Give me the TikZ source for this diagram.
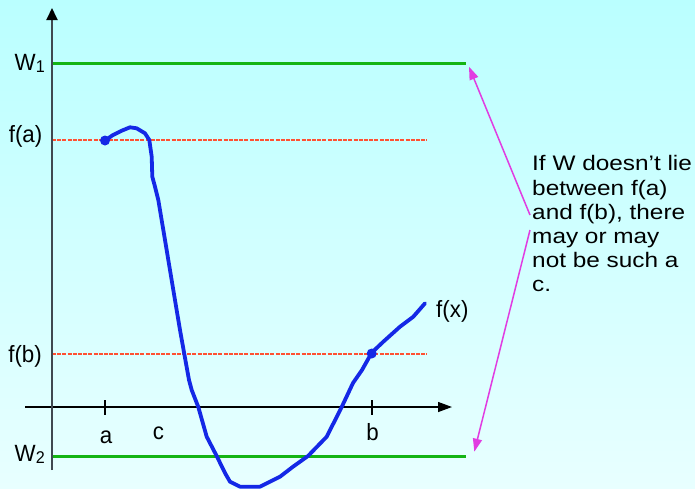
\documentclass[tikz,border=0pt]{standalone}
\usepackage{fontspec}
\setmainfont{Liberation Sans}
\newfontfamily\notefont[FakeStretch=1.16]{Liberation Sans}
\newfontfamily\lblfont[FakeStretch=0.95]{Liberation Sans}
\usetikzlibrary{arrows.meta}
\definecolor{bgtop}{RGB}{186,255,255}
\definecolor{bgbot}{RGB}{232,255,255}
\definecolor{wgreen}{RGB}{20,180,20}
\definecolor{fred}{RGB}{255,80,50}
\definecolor{cblue}{RGB}{20,40,230}
\definecolor{amag}{RGB}{225,60,225}
\definecolor{yaxis}{RGB}{64,72,80}
\newcommand\lowsub[1]{\raisebox{-1.6pt}{\fontsize{17}{17}\selectfont #1}}
\tikzset{
  lbl/.style={inner sep=0pt, font=\lblfont\fontsize{23.5}{27}\selectfont},
  wline/.style={wgreen, line width=3pt},
  fline/.style={fred, line width=1.3pt, dash pattern=on 4pt off 1.2pt},
  curve/.style={cblue, line width=3.8pt, line join=round, line cap=round},
  magarrow/.style={amag, line width=1.5pt, -{Triangle[length=13pt,width=9pt]}},
  tick/.style={black, line width=1.2pt},
}
\begin{document}
\begin{tikzpicture}[x=1pt,y=-1pt]
\shade[top color=bgtop, bottom color=bgbot] (0,0) rectangle (695,488);
\useasboundingbox (0,0) rectangle (695,488);
% coordinates
\coordinate (ybot) at (52,470);
\coordinate (ytop) at (52,8);
\coordinate (xl) at (25,407);
\coordinate (xr) at (452,407);
\coordinate (w1l) at (52,63);
\coordinate (w1r) at (466,63);
\coordinate (w2l) at (52,456);
\coordinate (w2r) at (466,456);
\coordinate (fal) at (52,140);
\coordinate (far) at (427,140);
\coordinate (fbl) at (52,354);
\coordinate (fbr) at (427,354);
\coordinate (pa) at (105,140.5);
\coordinate (pb) at (371.7,353.5);
\coordinate (tat) at (105,400);
\coordinate (tab) at (105,415);
\coordinate (tbt) at (372,400);
\coordinate (tbb) at (372,415);
% horizontal lines
\draw[fline] (fal) -- (far);
\draw[fline] (fbl) -- (fbr);
\draw[wline] (w1l) -- (w1r);
\draw[wline] (w2l) -- (w2r);
% axes
\draw[black, line width=1.3pt, -{Triangle[length=14pt,width=10pt]}] (xl) -- (xr);
\draw[yaxis, line width=2pt, -{Triangle[length=12pt,width=11pt,color=black]}] (ybot) -- (ytop);
\draw[tick] (tat) -- (tab);
\draw[tick] (tbt) -- (tbb);
% curve
\draw[curve] plot coordinates {(105,140.5) (113,135) (121.7,130.7) (130,127.3) (136.7,128.3) (145,133.3) (149.3,140) (151.7,156.7) (152.3,176.7) (155,186.7) (158.3,200) (165,240) (173.3,290) (180,330) (184.3,354) (189,380) (191.7,390) (198.3,407) (206.7,436.7) (216.7,456) (225,473) (230,481.7) (240,486.7) (260,486.7) (280,476.7) (293,466.7) (308,456) (326.7,436.7) (341.7,407) (353,383) (362,370) (371.7,352.7) (383.3,341.7) (400,326.7) (413.3,316.7) (425,303.3)};
\fill[cblue] (pa) circle (5);
\fill[cblue] (pb) circle (5);
% labels
\node[lbl, anchor=base east] (lw1) at (45,70.7) {W\lowsub{1}};
\node[lbl, anchor=base east] (lfa) at (42.5,142) {f(a)};
\node[lbl, anchor=base east] (lfb) at (42,362.5) {f(b)};
\node[lbl, anchor=base east] (lw2) at (45,461.7) {W\lowsub{2}};
\node[lbl, anchor=base] (la) at (106,443.3) {a};
\node[lbl, anchor=base] (lc) at (158.5,439.3) {c};
\node[lbl, anchor=base] (lb) at (372.5,440) {b};
\node[lbl, anchor=base west] (lfx) at (436,317.5) {f(x)};
% note
\node[inner sep=0pt, anchor=north west, align=left, font=\notefont\fontsize{21}{24.1}\selectfont] (note) at (532,155.5)
  {If W doesn’t lie\\between f(a)\\and f(b), there\\may or may\\not be such a\\c.};
\coordinate (m1) at (530,215);
\coordinate (m2) at (530,230);
\coordinate (t1) at (469,66.7);
\coordinate (t2) at (474.3,451.7);
\draw[magarrow] (m1) -- (t1);
\draw[magarrow] (m2) -- (t2);
\end{tikzpicture}
\end{document}
